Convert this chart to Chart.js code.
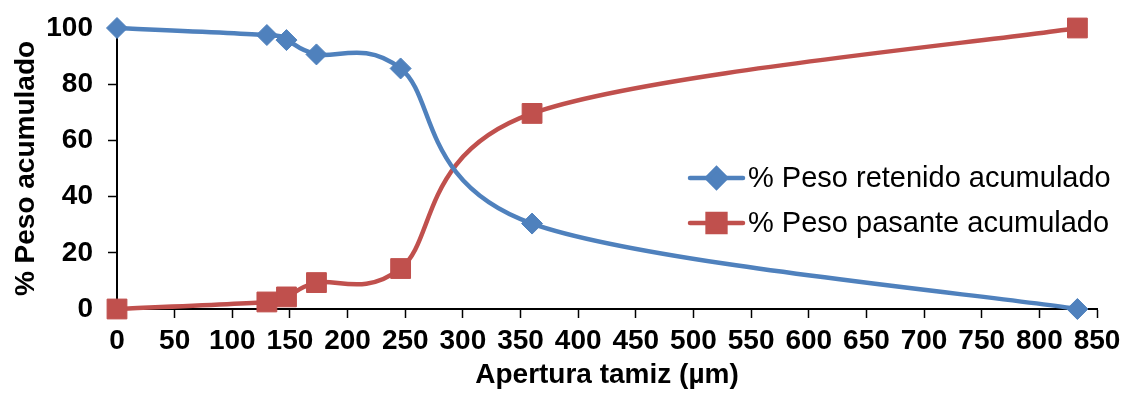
<!DOCTYPE html>
<html lang="es">
<head>
<meta charset="utf-8">
<title>Curva granulométrica</title>
<script src="https://cdn.jsdelivr.net/npm/chart.js@4/dist/chart.umd.min.js"></script>
<style>
  html, body { margin: 0; padding: 0; background: #ffffff; }
  #wrap { position: relative; width: 1135px; height: 399px; }
</style>
</head>
<body>
<div id="wrap"><canvas id="grafico"></canvas></div>
<script>
// Apertura de tamiz (µm)
const aperturas = [0, 130, 147, 173, 246, 360, 833];
// % Peso retenido acumulado
const retenidoAcum = [100, 97.5, 95.7, 90.6, 85.6, 30.4, 0];
// % Peso pasante acumulado
const pasanteAcum = [0, 2.5, 4.3, 9.4, 14.4, 69.6, 100];

const nombresSeries = ['% Peso retenido acumulado', '% Peso pasante acumulado'];
const ticksX = [0, 50, 100, 150, 200, 250, 300, 350, 400, 450, 500, 550, 600, 650, 700, 750, 800, 850];
const ticksY = [0, 20, 40, 60, 80, 100];

const AZUL = '#4F81BD';
const ROJO = '#C0504D';
const FUENTE = '"Liberation Sans", Arial, sans-serif';

const puntos = (ys) => aperturas.map((x, i) => ({ x: x, y: ys[i] }));

// Suavizado tipo Catmull-Rom (tangente = (siguiente - anterior) / 6),
// calculado sobre las posiciones en píxeles que dan las escalas.
const suavizado = {
  id: 'suavizado',
  beforeDatasetDraw(chart, args) {
    const meta = args.meta;
    const pts = meta.data;
    const n = pts.length;
    for (let i = 0; i < n; i++) {
      const prev = pts[Math.max(i - 1, 0)];
      const next = pts[Math.min(i + 1, n - 1)];
      const tx = (next.x - prev.x) / 6;
      const ty = (next.y - prev.y) / 6;
      pts[i].cp1x = pts[i].x - tx;
      pts[i].cp1y = pts[i].y - ty;
      pts[i].cp2x = pts[i].x + tx;
      pts[i].cp2y = pts[i].y + ty;
    }
    if (meta.dataset) {
      meta.dataset._pointsUpdated = true;
      meta.dataset._path = undefined;
    }
  }
};

// Leyenda dibujada dentro del área del gráfico
const leyendaInterna = {
  id: 'leyendaInterna',
  afterDatasetsDraw(chart) {
    const ctx = chart.ctx;
    const filas = [178, 223];
    const x0 = 690, x1 = 743, xt = 748;
    ctx.save();
    chart.data.datasets.forEach((ds, i) => {
      const y = filas[i];
      ctx.strokeStyle = ds.borderColor;
      ctx.lineWidth = ds.borderWidth;
      ctx.lineCap = 'round';
      ctx.beginPath();
      ctx.moveTo(x0, y);
      ctx.lineTo(x1, y);
      ctx.stroke();
      ctx.fillStyle = ds.backgroundColor;
      ctx.strokeStyle = ds.borderColor;
      Chart.helpers.drawPoint(ctx, {
        pointStyle: ds.pointStyle,
        radius: ds.pointRadius * 0.9,
        rotation: 0,
        borderWidth: 1
      }, (x0 + x1) / 2, y);
      ctx.fillStyle = '#000000';
      ctx.font = '29px ' + FUENTE;
      ctx.textAlign = 'left';
      ctx.textBaseline = 'middle';
      ctx.fillText(ds.label, xt, y + 1);
    });
    ctx.restore();
  }
};

new Chart(document.getElementById('grafico'), {
  type: 'line',
  data: {
    datasets: [
      {
        label: nombresSeries[0],
        data: puntos(retenidoAcum),
        borderColor: AZUL,
        backgroundColor: AZUL,
        borderWidth: 4.5,
        pointStyle: 'rectRot',
        pointRadius: 10.5,
        pointHoverRadius: 10.5,
        pointBorderWidth: 1,
        tension: 0.4,
        clip: false
      },
      {
        label: nombresSeries[1],
        data: puntos(pasanteAcum),
        borderColor: ROJO,
        backgroundColor: ROJO,
        borderWidth: 4.5,
        pointStyle: 'rect',
        pointRadius: 14,
        pointHoverRadius: 14,
        pointBorderWidth: 1,
        tension: 0.4,
        clip: false
      }
    ]
  },
  options: {
    responsive: true,
    maintainAspectRatio: false,
    animation: false,
    events: [],
    layout: { autoPadding: false, padding: { top: 28, right: 38, left: 0, bottom: 0 } },
    plugins: {
      legend: { display: false },
      tooltip: { enabled: false }
    },
    scales: {
      x: {
        type: 'linear',
        min: 0,
        max: 850,
        afterBuildTicks: (scale) => { scale.ticks = ticksX.map(v => ({ value: v })); },
        afterFit: (scale) => {
          scale.height = 90;
          scale.paddingLeft = 0;
          scale.paddingRight = 0;
        },
        ticks: {
          autoSkip: false,
          maxRotation: 0,
          color: '#000000',
          padding: 6,
          font: { family: FUENTE, size: 28, weight: 'bold' }
        },
        grid: {
          drawOnChartArea: false,
          drawTicks: true,
          tickLength: 9,
          tickWidth: 1.5,
          tickColor: '#000000'
        },
        border: { display: true, color: '#000000', width: 2 },
        title: {
          display: true,
          text: 'Apertura tamiz (µm)',
          color: '#000000',
          padding: { top: 0, bottom: 7 },
          font: { family: FUENTE, size: 28, weight: 'bold' }
        }
      },
      y: {
        type: 'linear',
        min: 0,
        max: 100,
        afterBuildTicks: (scale) => { scale.ticks = ticksY.map(v => ({ value: v })); },
        afterFit: (scale) => {
          scale.width = 117;
          scale.paddingTop = 0;
          scale.paddingBottom = 0;
        },
        ticks: {
          color: '#000000',
          padding: 15,
          font: { family: FUENTE, size: 28, weight: 'bold' }
        },
        grid: {
          drawOnChartArea: false,
          drawTicks: true,
          tickLength: 9,
          tickWidth: 1.5,
          tickColor: '#000000'
        },
        border: { display: true, color: '#000000', width: 2 },
        title: {
          display: true,
          text: '% Peso acumulado',
          color: '#000000',
          padding: { top: 9, bottom: 0 },
          font: { family: FUENTE, size: 28, weight: 'bold' }
        }
      }
    }
  },
  plugins: [suavizado, leyendaInterna]
});
</script>
</body>
</html>
